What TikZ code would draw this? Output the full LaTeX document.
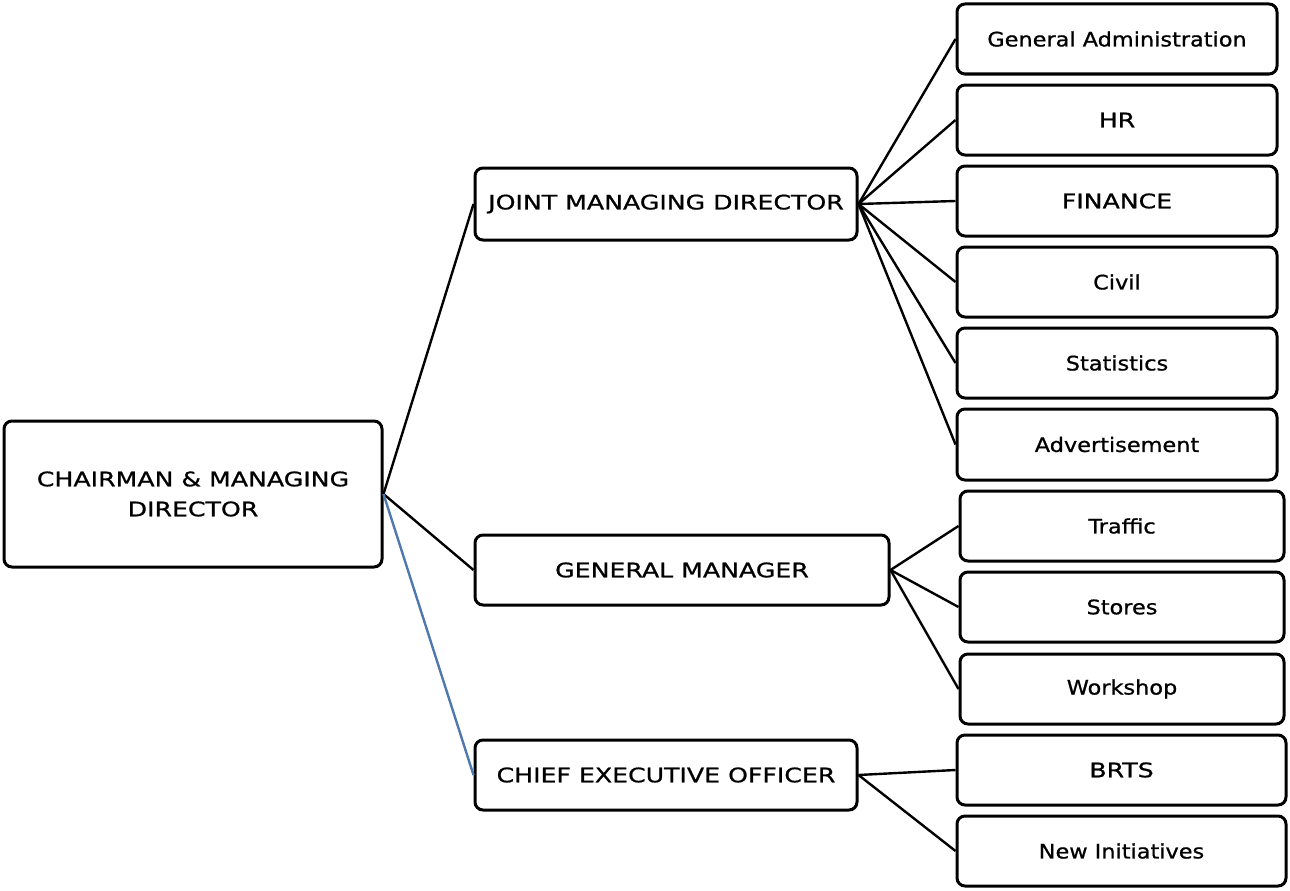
\documentclass[tikz,border=0pt]{standalone}
\usepackage{fontspec}
\setmainfont[FakeStretch=1.12,FakeBold=0.9]{DejaVu Sans}
\newfontfamily\capsfont[FakeStretch=1.26,FakeBold=0.9]{DejaVu Sans}
\definecolor{linkblue}{HTML}{4F78AE}
\begin{document}
\begin{tikzpicture}[x=1pt,y=-1pt,
  box/.style={draw=black,line width=3pt,rounded corners=8pt,fill=white,align=center,inner sep=0pt,font=\fontsize{20}{30}\selectfont},
  capbox/.style={box,font=\capsfont\fontsize{20}{30}\selectfont},
  link/.style={draw=black,line width=2.4pt},
  bluelink/.style={draw=linkblue,line width=2.4pt}]
\useasboundingbox (0,0) rectangle (1290,891);
% level 0
\node[capbox,minimum width=378pt,minimum height=146pt] (cmd) at (193,494) {CHAIRMAN \& MANAGING\\DIRECTOR};
% level 1
\node[capbox,minimum width=382pt,minimum height=72pt] (jmd) at (666,204) {JOINT MANAGING DIRECTOR};
\node[capbox,minimum width=414pt,minimum height=70pt] (gm) at (682,570) {GENERAL MANAGER};
\node[capbox,minimum width=382pt,minimum height=70pt] (ceo) at (666,775) {CHIEF EXECUTIVE OFFICER};
% level 2 under JMD
\node[box,minimum width=320pt,minimum height=70pt] (ga) at (1117,39) {General Administration};
\node[capbox,minimum width=320pt,minimum height=70pt] (hr) at (1117,120) {HR};
\node[capbox,minimum width=320pt,minimum height=70pt] (fin) at (1117,201) {FINANCE};
\node[box,minimum width=320pt,minimum height=70pt] (civ) at (1117,282) {Civil};
\node[box,minimum width=320pt,minimum height=70pt] (sta) at (1117,363) {Statistics};
\node[box,minimum width=320pt,minimum height=71pt] (adv) at (1117,444.5) {Advertisement};
% under GM
\node[box,minimum width=324pt,minimum height=70pt] (tra) at (1122,526) {Traffic};
\node[box,minimum width=324pt,minimum height=70pt] (sto) at (1122,607) {Stores};
\node[box,minimum width=324pt,minimum height=70pt] (wor) at (1122,689) {Workshop};
% under CEO
\node[capbox,minimum width=329pt,minimum height=70pt] (brt) at (1121.5,770) {BRTS};
\node[box,minimum width=329pt,minimum height=70pt] (new) at (1121.5,851) {New Initiatives};
% connectors
\coordinate (cmdo) at (cmd.east);
\draw[link] (cmdo) -- (jmd.west);
\draw[link] (cmdo) -- (gm.west);
\draw[bluelink] (cmdo) -- (ceo.west);
\foreach \t in {ga,hr,fin,civ,sta,adv}{\draw[link] (jmd.east) -- (\t.west);}
\foreach \t in {tra,sto,wor}{\draw[link] (gm.east) -- (\t.west);}
\foreach \t in {brt,new}{\draw[link] (ceo.east) -- (\t.west);}
\end{tikzpicture}
\end{document}
